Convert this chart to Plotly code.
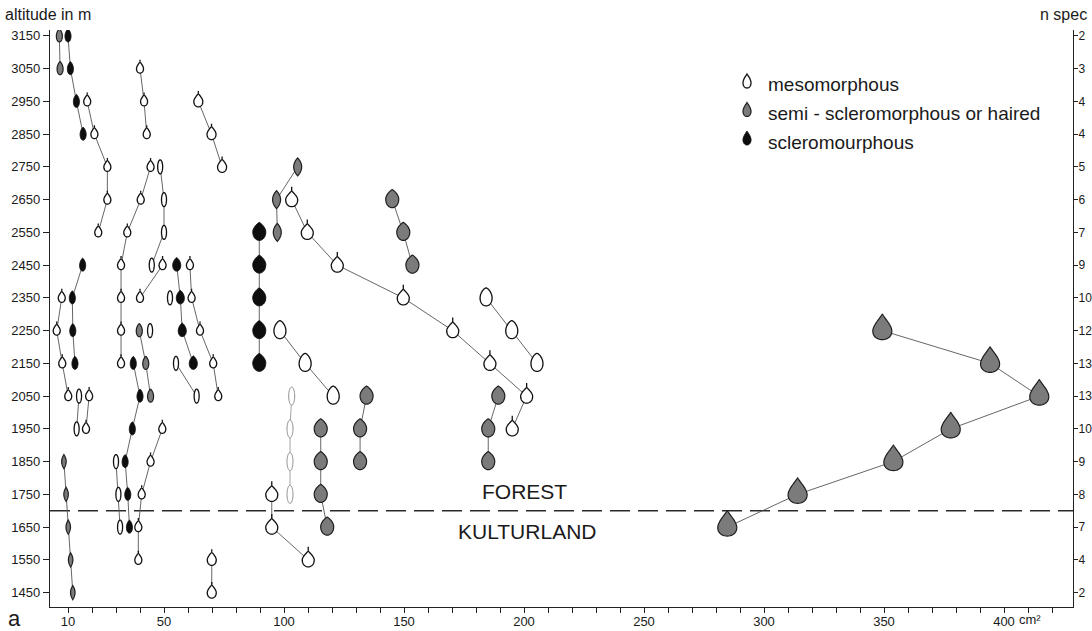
import numpy as np
import plotly.graph_objects as go

FONT = "Liberation Sans, Arial, Helvetica, sans-serif"
INK = "#1a1a1a"

# ---- axes -------------------------------------------------------------
altitude_ticks = [3150, 3050, 2950, 2850, 2750, 2650, 2550, 2450, 2350,
                  2250, 2150, 2050, 1950, 1850, 1750, 1650, 1550, 1450]
n_spec = ["2", "3", "4", "4", "5", "6", "7", "9", "10",
          "12", "13", "13", "10", "9", "8", "7", "4", "2"]
area_ticks = [10, 50, 100, 150, 200, 250, 300, 350, 400]
forest_limit = 1700

# ---- mesomorphous leaves (leaf area in cm² per altitude) ---------------
meso_a_alt = [2950, 2850, 2750, 2650, 2550]
meso_a_area = [18.0, 21.0, 26.4, 26.4, 22.6]
meso_b_alt = [3050, 2950, 2850]
meso_b_area = [40.0, 41.7, 42.8]
meso_c_alt = [2950, 2850, 2750]
meso_c_area = [64.3, 69.8, 74.2]
meso_d_alt = [2750, 2650, 2550, 2450, 2350, 2250, 2150]
meso_d_area = [44.4, 40.3, 34.7, 32.1, 32.1, 32.1, 32.1]
meso_e_alt = [2750, 2650, 2550, 2450]
meso_e_area = [48.4, 50.0, 50.0, 44.9]
meso_f_alt = [2450, 2350]
meso_f_area = [49.4, 40.0]
meso_g_alt = [2350, 2250, 2150, 2050]
meso_g_area = [7.4, 5.3, 7.6, 10.1]
meso_h_alt = [2450, 2350, 2250, 2150, 2050]
meso_h_area = [60.8, 61.5, 65.0, 70.5, 72.6]
meso_i_alt = [2150, 2050]
meso_i_area = [55.0, 63.6]
meso_j_alt = [2050, 1950]
meso_j_area = [14.6, 13.6]
meso_k_alt = [2050, 1950]
meso_k_area = [18.8, 17.5]
meso_l_alt = [1950, 1850, 1750, 1650, 1550]
meso_l_area = [49.3, 44.4, 40.7, 39.3, 39.3]
meso_m_alt = [1850, 1750, 1650]
meso_m_area = [30.0, 31.0, 31.7]
meso_n_alt = [1550, 1450]
meso_n_area = [69.9, 69.9]
meso_o_alt = [2650, 2550, 2450, 2350, 2250, 2150, 2050, 1950]
meso_o_area = [103.2, 109.7, 122.2, 149.7, 170.3, 185.8, 201.1, 195.1]
meso_p_alt = [2350, 2250, 2150]
meso_p_area = [184.2, 194.9, 205.4]
meso_q_alt = [2250, 2150, 2050]
meso_q_area = [98.3, 108.8, 120.5]
meso_r_alt = [2050, 1950, 1850, 1750]
meso_r_area = [103.2, 102.5, 102.5, 102.5]
meso_s_alt = [1750, 1650, 1550]
meso_s_area = [94.9, 94.9, 110.1]
meso_t_alt = [2350]
meso_t_area = [52.5]
meso_u_alt = [2250]
meso_u_area = [44.2]

# ---- semi-scleromorphous or haired leaves -----------------------------
semi_a_alt = [3150, 3050]
semi_a_area = [6.4, 6.7]
semi_b_alt = [2250, 2150, 2050]
semi_b_area = [39.7, 42.4, 44.4]
semi_c_alt = [1850, 1750, 1650, 1550, 1450]
semi_c_area = [8.3, 9.2, 10.1, 11.1, 12.0]
semi_d_alt = [2750, 2650, 2550]
semi_d_area = [105.7, 96.9, 97.2]
semi_e_alt = [2650, 2550, 2450]
semi_e_area = [145.1, 149.7, 153.5]
semi_f_alt = [1950, 1850, 1750, 1650]
semi_f_area = [115.3, 115.3, 115.3, 118.0]
semi_g_alt = [2050, 1950, 1850]
semi_g_area = [134.4, 131.7, 131.7]
semi_h_alt = [2050, 1950, 1850]
semi_h_area = [189.3, 185.1, 185.1]
semi_i_alt = [2250, 2150, 2050, 1950, 1850, 1750, 1650]
semi_i_area = [349.3, 394.2, 414.7, 377.8, 353.9, 314.0, 284.7]

# ---- scleromorphous leaves --------------------------------------------
scl_a_alt = [3150, 3050, 2950, 2850]
scl_a_area = [10.0, 11.0, 13.5, 16.3]
scl_b_alt = [2450, 2350, 2250, 2150]
scl_b_area = [16.1, 11.8, 12.0, 12.9]
scl_c_alt = [2450, 2350, 2250, 2150]
scl_c_area = [55.3, 56.8, 57.6, 62.2]
scl_d_alt = [2150, 2050, 1950, 1850, 1750, 1650]
scl_d_area = [37.2, 40.0, 36.8, 33.8, 34.9, 35.6]
scl_e_alt = [2550, 2450, 2350, 2250, 2150]
scl_e_area = [89.7, 89.7, 89.7, 89.7, 89.7]

# ---- leaf glyphs (pixel outlines: width, height above / below anchor,
#      top sharpness, bottom sharpness, stalk length) ---------------------
FORMS = {
    "bulb_s": (7, 7, 4.5, 1.4, 0.0, 2.0),
    "bulb_m": (9, 8, 5.5, 1.4, 0.0, 2.5),
    "bulb_l": (12, 9, 7, 1.4, 0.0, 4.0),
    "oval_n": (5, 7, 7, 0.0, 0.0, 0),
    "oval_nl": (6, 9, 9, 0.0, 0.0, 0),
    "egg_s": (6, 7, 6, 0.6, 0.0, 0),
    "egg_m": (8, 7.5, 6, 0.6, 0.0, 0),
    "egg_l": (13, 10, 8, 0.7, 0.0, 0),
    "lens_s": (4.5, 7, 7, 1.0, 1.0, 0),
    "lens_m": (8, 9, 9, 1.0, 1.0, 0),
    "oval_l": (12, 10, 8, 0.35, 0.0, 0),
    "tear_xl": (19, 17, 9, 1.6, 0.0, 0),
    "legend": (8, 9, 5, 1.2, 0.0, 0),
}

KIND_STYLE = {
    "meso": dict(fill="white", line="#111111", width=1.3),
    "meso_light": dict(fill="white", line="#8a8a8a", width=1.0),
    "semi": dict(fill="#7b7b7b", line="#1e1e1e", width=1.2),
    "sclero": dict(fill="#0e0e0e", line="#0e0e0e", width=1.0),
}

SERIES = [
    ("meso", "bulb_s", meso_a_alt, meso_a_area),
    ("meso", "bulb_s", meso_b_alt, meso_b_area),
    ("meso", "bulb_m", meso_c_alt, meso_c_area),
    ("meso", "bulb_s", meso_d_alt, meso_d_area),
    ("meso", "oval_n", meso_e_alt, meso_e_area),
    ("meso", "bulb_s", meso_f_alt, meso_f_area),
    ("meso", "bulb_s", meso_g_alt, meso_g_area),
    ("meso", "bulb_s", meso_h_alt, meso_h_area),
    ("meso", "oval_n", meso_i_alt, meso_i_area),
    ("meso", "oval_n", meso_j_alt, meso_j_area),
    ("meso", "bulb_s", meso_k_alt, meso_k_area),
    ("meso", "bulb_s", meso_l_alt, meso_l_area),
    ("meso", "oval_n", meso_m_alt, meso_m_area),
    ("meso", "bulb_m", meso_n_alt, meso_n_area),
    ("meso", "bulb_l", meso_o_alt, meso_o_area),
    ("meso", "oval_l", meso_p_alt, meso_p_area),
    ("meso", "oval_l", meso_q_alt, meso_q_area),
    ("meso_light", "oval_nl", meso_r_alt, meso_r_area),
    ("meso", "bulb_l", meso_s_alt, meso_s_area),
    ("meso", "oval_n", meso_t_alt, meso_t_area),
    ("meso", "oval_n", meso_u_alt, meso_u_area),
    ("semi", "egg_s", semi_a_alt, semi_a_area),
    ("semi", "egg_s", semi_b_alt, semi_b_area),
    ("semi", "lens_s", semi_c_alt, semi_c_area),
    ("semi", "lens_m", semi_d_alt, semi_d_area),
    ("semi", "egg_l", semi_e_alt, semi_e_area),
    ("semi", "egg_l", semi_f_alt, semi_f_area),
    ("semi", "egg_l", semi_g_alt, semi_g_area),
    ("semi", "egg_l", semi_h_alt, semi_h_area),
    ("semi", "tear_xl", semi_i_alt, semi_i_area),
    ("sclero", "egg_s", scl_a_alt, scl_a_area),
    ("sclero", "egg_s", scl_b_alt, scl_b_area),
    ("sclero", "egg_m", scl_c_alt, scl_c_area),
    ("sclero", "egg_s", scl_d_alt, scl_d_area),
    ("sclero", "egg_l", scl_e_alt, scl_e_area),
]


def leaf_path(form):
    """Closed outline in pixels around the anchor (y upward), optional stalk."""
    w, top, bottom, m_top, m_bot, stalk = FORMS[form]
    t = np.linspace(0, 2 * np.pi, 61)
    x = np.sin(t) * np.abs(np.sin(t / 2)) ** m_top * np.abs(np.cos(t / 2)) ** m_bot
    y = np.cos(t)
    i = int(np.argmax(x))
    yw = y[i]
    x = x / x[i] * w / 2
    y = y - yw
    y = np.where(y > 0, y * top / (1 - yw), y * bottom / (1 + yw))
    path = "M " + " L ".join(f"{a:.2f},{b:.2f}" for a, b in zip(x, y)) + " Z"
    if stalk:
        path += f" M 0,{top - 0.5:.2f} L 0,{top + stalk:.2f}"
    return path


def leaf_shape(form, kind, xanchor, yanchor, xref="x", yref="y"):
    st = KIND_STYLE[kind]
    return dict(type="path", xref=xref, yref=yref,
                xsizemode="pixel", ysizemode="pixel",
                xanchor=xanchor, yanchor=yanchor,
                path=leaf_path(form), fillcolor=st["fill"],
                line=dict(color=st["line"], width=st["width"]),
                layer="above")


fig = go.Figure()
shapes = []

for kind, form, alts, areas in SERIES:
    if len(alts) > 1:
        fig.add_trace(go.Scatter(
            x=areas, y=alts, mode="lines", hoverinfo="skip", showlegend=False,
            line=dict(color="#9a9a9a" if kind == "meso_light" else "#555555",
                      width=0.9)))
    for a, z in zip(areas, alts):
        shapes.append(leaf_shape(form, kind, a, z))

# right-hand axis carrier (species counts per altitude band)
fig.add_trace(go.Scatter(x=[None], y=[None], yaxis="y2", mode="markers",
                         hoverinfo="skip", showlegend=False))

# forest / cultivated land boundary
shapes.insert(0, dict(type="line", xref="paper", x0=0, x1=1, yref="y",
                      y0=forest_limit, y1=forest_limit, layer="below",
                      line=dict(color="#2a2a2a", width=1.6, dash="20px,8px")))

# plot box in pixels
L, R, T, B = 50, 19, 30, 24
W_PLOT, H_PLOT = 1092 - L - R, 631 - T - B


def px_x(px):
    return (px - L) / W_PLOT


def px_y(py):
    return (631 - B - py) / H_PLOT


legend_rows = [("meso", "mesomorphous", 83),
               ("semi", "semi - scleromorphous or haired", 111.5),
               ("sclero", "scleromourphous", 140)]
annotations = []
for kind, label, py in legend_rows:
    shapes.append(leaf_shape("legend", kind, px_x(747), px_y(py),
                             xref="paper", yref="paper"))
    annotations.append(dict(text=label, xref="paper", yref="paper",
                            x=px_x(766), y=px_y(py + 2), xanchor="left",
                            yanchor="middle", showarrow=False,
                            font=dict(size=19, color=INK, family=FONT)))

annotations += [
    dict(text="altitude in m", xref="paper", yref="paper", x=px_x(3),
         y=px_y(14), xanchor="left", yanchor="middle", showarrow=False,
         font=dict(size=16, color=INK, family=FONT)),
    dict(text="n spec", xref="paper", yref="paper", x=px_x(1038),
         y=px_y(14), xanchor="left", yanchor="middle", showarrow=False,
         font=dict(size=16, color=INK, family=FONT)),
    dict(text="a", xref="paper", yref="paper", x=px_x(14), y=px_y(618),
         xanchor="center", yanchor="middle", showarrow=False,
         font=dict(size=22, color=INK, family=FONT)),
    dict(text="cm²", xref="x", yref="paper", x=area_ticks[-1] + 5.5,
         y=px_y(619), xanchor="left", yanchor="middle", showarrow=False,
         font=dict(size=13, color=INK, family=FONT)),
    dict(text="FOREST", xref="x", yref="y", x=200.4, y=1760,
         xanchor="center", yanchor="middle", showarrow=False,
         font=dict(size=21, color=INK, family=FONT)),
    dict(text="KULTURLAND", xref="x", yref="y", x=201.3, y=1638,
         xanchor="center", yanchor="middle", showarrow=False,
         font=dict(size=21, color=INK, family=FONT)),
]

y_range = [1406, 3168]
fig.update_layout(
    width=1092, height=631,
    margin=dict(l=L, r=R, t=T, b=B, pad=0, autoexpand=False),
    paper_bgcolor="white", plot_bgcolor="white",
    showlegend=False,
    font=dict(family=FONT, size=13, color=INK),
    xaxis=dict(range=[2.5, 428.75], showgrid=False, zeroline=False,
               automargin=False,
               showline=True, linecolor="#222", linewidth=1.3,
               tickmode="array", tickvals=area_ticks,
               ticktext=[str(v) for v in area_ticks],
               ticks="outside", ticklen=5, tickwidth=1, tickcolor="#222",
               ticklabelstandoff=-3,
               tickfont=dict(size=13, color=INK, family=FONT),
               minor=dict(dtick=10, tick0=0, ticks="outside", ticklen=5,
                          tickwidth=1, tickcolor="#222")),
    yaxis=dict(range=y_range, showgrid=False, zeroline=False,
               automargin=False,
               showline=True, linecolor="#222", linewidth=1.3,
               tickmode="array", tickvals=altitude_ticks,
               ticktext=[str(v) for v in altitude_ticks],
               ticks="outside", ticklen=6, tickwidth=1, tickcolor="#222",
               tickfont=dict(size=13, color=INK, family=FONT)),
    yaxis2=dict(range=y_range, overlaying="y", side="right",
                automargin=False,
                showgrid=False, zeroline=False,
                showline=True, linecolor="#222", linewidth=1.3,
                tickmode="array", tickvals=altitude_ticks, ticktext=n_spec,
                ticks="outside", ticklen=4, tickwidth=1, tickcolor="#222",
                ticklabelstandoff=-2,
                tickfont=dict(size=12, color=INK, family=FONT)),
    shapes=shapes,
    annotations=annotations,
)

fig.write_html("out.html")
